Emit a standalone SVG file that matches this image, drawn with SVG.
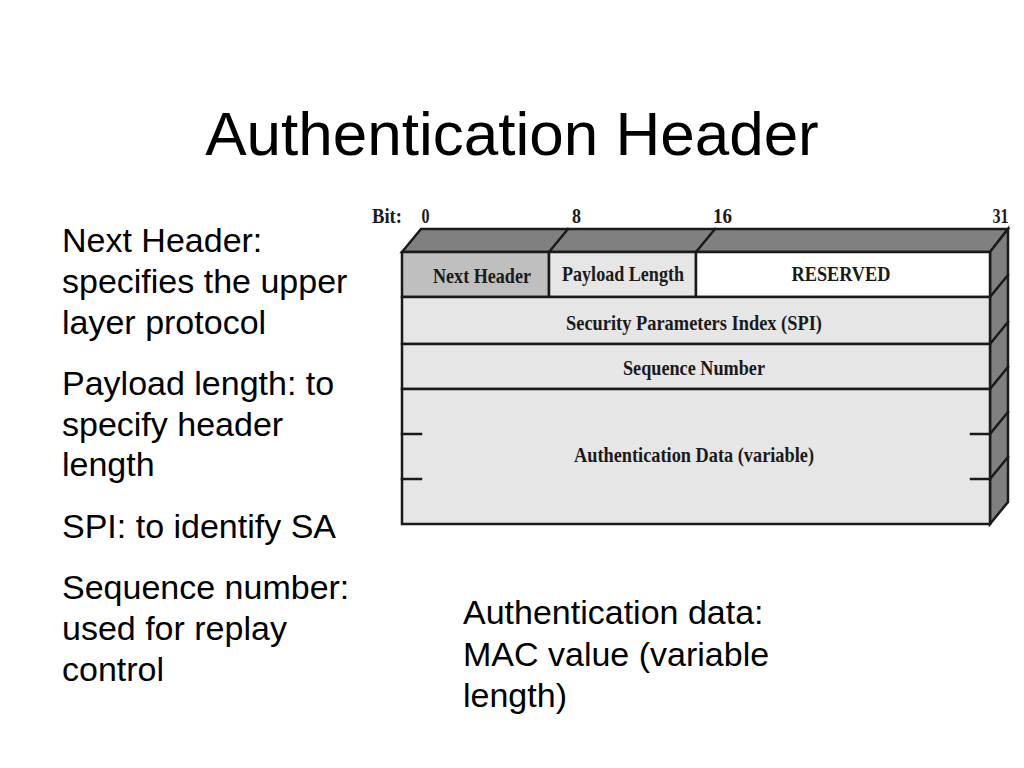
<svg xmlns="http://www.w3.org/2000/svg" width="1024" height="768" viewBox="0 0 1024 768">
  <style>
    .title { font-family: "Liberation Sans", Arial, sans-serif; font-size: 62px; fill: #000; }
    .body { font-family: "Liberation Sans", Arial, sans-serif; font-size: 34px; fill: #000; }
    .lbl { font-family: "Liberation Serif", "Times New Roman", serif; font-weight: bold; font-size: 21px; fill: #1a1a1a; }
    .bit { font-family: "Liberation Serif", "Times New Roman", serif; font-weight: bold; font-size: 21px; fill: #1a1a1a; }
    .edge { stroke: #1a1a1a; stroke-width: 2.5; fill: none; stroke-linecap: square; }
    .cell { stroke: #1a1a1a; stroke-width: 2.5; }
    .dark { fill: #808080; stroke: #1a1a1a; stroke-width: 2.5; stroke-linejoin: miter; }
  </style>
  <rect x="0" y="0" width="1024" height="768" fill="#ffffff"/>

  <text class="title" x="512" y="155" text-anchor="middle">Authentication Header</text>

  <g id="left-notes">
    <text class="body" x="62" y="252">Next Header:</text>
    <text class="body" x="62" y="293">specifies the upper</text>
    <text class="body" x="62" y="334">layer protocol</text>
    <text class="body" x="62" y="395">Payload length: to</text>
    <text class="body" x="62" y="436">specify header</text>
    <text class="body" x="62" y="476">length</text>
    <text class="body" x="62" y="538">SPI: to identify SA</text>
    <text class="body" x="62" y="599">Sequence number:</text>
    <text class="body" x="62" y="640">used for replay</text>
    <text class="body" x="62" y="681">control</text>
  </g>

  <g id="auth-note">
    <text class="body" x="463" y="624">Authentication data:</text>
    <text class="body" x="463" y="666">MAC value (variable</text>
    <text class="body" x="463" y="707">length)</text>
  </g>

  <g id="bit-scale">
    <text class="bit" x="372" y="223" textLength="30" lengthAdjust="spacingAndGlyphs">Bit:</text>
    <text class="bit" x="425.5" y="223" text-anchor="middle" textLength="8" lengthAdjust="spacingAndGlyphs">0</text>
    <text class="bit" x="576.5" y="223" text-anchor="middle" textLength="9" lengthAdjust="spacingAndGlyphs">8</text>
    <text class="bit" x="722.5" y="223" text-anchor="middle" textLength="19" lengthAdjust="spacingAndGlyphs">16</text>
    <text class="bit" x="1000.5" y="223" text-anchor="middle" textLength="16" lengthAdjust="spacingAndGlyphs">31</text>
  </g>

  <g id="box-3d">
    <polygon class="dark" points="402,252 421,229 1008,229 990,252"/>
    <polygon class="dark" points="990,252 1008,229 1008,502 990,524"/>
    <line class="edge" x1="549" y1="252" x2="568" y2="229"/>
    <line class="edge" x1="696" y1="252" x2="715" y2="229"/>
    <line class="edge" x1="990" y1="297" x2="1008" y2="275"/>
    <line class="edge" x1="990" y1="344" x2="1008" y2="322"/>
    <line class="edge" x1="990" y1="389" x2="1008" y2="367"/>
    <line class="edge" x1="990" y1="434" x2="1008" y2="412"/>
    <line class="edge" x1="990" y1="479" x2="1008" y2="457"/>
  </g>

  <g id="next-header">
    <rect class="cell" x="402" y="252" width="147" height="45" fill="#bfbfbf"/>
    <text class="lbl" x="482" y="283" text-anchor="middle" textLength="98" lengthAdjust="spacingAndGlyphs">Next Header</text>
  </g>
  <g id="payload-length">
    <rect class="cell" x="549" y="252" width="147" height="45" fill="#e6e6e6"/>
    <text class="lbl" x="623" y="281" text-anchor="middle" textLength="122" lengthAdjust="spacingAndGlyphs">Payload Length</text>
  </g>
  <g id="reserved">
    <rect class="cell" x="696" y="252" width="294" height="45" fill="#ffffff"/>
    <text class="lbl" x="841" y="281" text-anchor="middle" textLength="99" lengthAdjust="spacingAndGlyphs">RESERVED</text>
  </g>
  <g id="spi">
    <rect class="cell" x="402" y="297" width="588" height="47" fill="#e6e6e6"/>
    <text class="lbl" x="694" y="330" text-anchor="middle" textLength="256" lengthAdjust="spacingAndGlyphs">Security Parameters Index (SPI)</text>
  </g>
  <g id="sequence-number">
    <rect class="cell" x="402" y="344" width="588" height="45" fill="#e6e6e6"/>
    <text class="lbl" x="694" y="375" text-anchor="middle" textLength="142" lengthAdjust="spacingAndGlyphs">Sequence Number</text>
  </g>
  <g id="auth-data">
    <rect class="cell" x="402" y="389" width="588" height="135" fill="#e6e6e6"/>
    <text class="lbl" x="694" y="462" text-anchor="middle" textLength="240" lengthAdjust="spacingAndGlyphs">Authentication Data (variable)</text>
    <line class="edge" x1="402" y1="434" x2="421" y2="434"/>
    <line class="edge" x1="402" y1="479" x2="421" y2="479"/>
    <line class="edge" x1="971" y1="434" x2="990" y2="434"/>
    <line class="edge" x1="971" y1="479" x2="990" y2="479"/>
  </g>

  <g id="connectors"></g>
</svg>
